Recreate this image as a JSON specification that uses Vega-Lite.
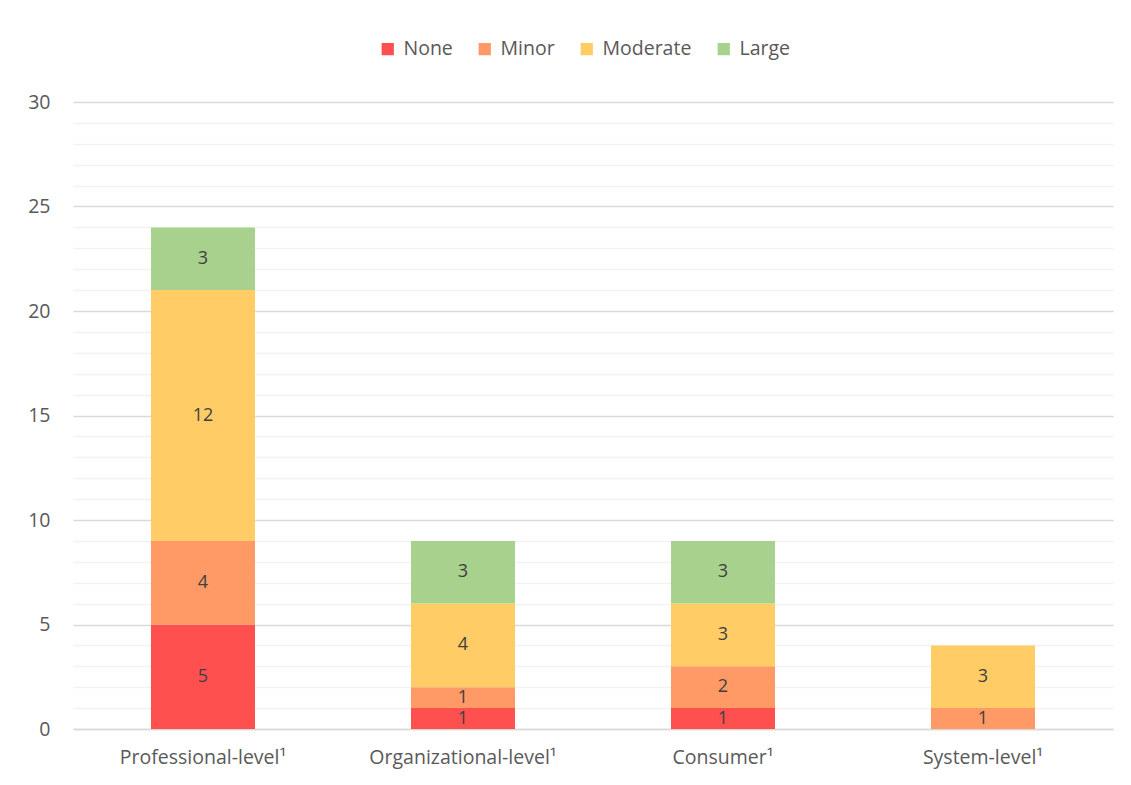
{
  "$schema": "https://vega.github.io/schema/vega-lite/v6.json",
  "width": 1040,
  "height": 627,
  "autosize": {"type": "none"},
  "padding": {"left": 73, "top": 102, "right": 18, "bottom": 56},
  "background": "white",
  "config": {
    "font": "Open Sans",
    "view": {"stroke": null},
    "axis": {"labelFont": "Open Sans", "labelColor": "#595959", "labelFontSize": 19.5, "labelLimit": 0}
  },
  "data": {
    "values": [
      {"category": "Professional-level¹", "impact": "None", "rank": 1, "count": 5},
      {"category": "Professional-level¹", "impact": "Minor", "rank": 2, "count": 4},
      {"category": "Professional-level¹", "impact": "Moderate", "rank": 3, "count": 12},
      {"category": "Professional-level¹", "impact": "Large", "rank": 4, "count": 3},
      {"category": "Organizational-level¹", "impact": "None", "rank": 1, "count": 1},
      {"category": "Organizational-level¹", "impact": "Minor", "rank": 2, "count": 1},
      {"category": "Organizational-level¹", "impact": "Moderate", "rank": 3, "count": 4},
      {"category": "Organizational-level¹", "impact": "Large", "rank": 4, "count": 3},
      {"category": "Consumer¹", "impact": "None", "rank": 1, "count": 1},
      {"category": "Consumer¹", "impact": "Minor", "rank": 2, "count": 2},
      {"category": "Consumer¹", "impact": "Moderate", "rank": 3, "count": 3},
      {"category": "Consumer¹", "impact": "Large", "rank": 4, "count": 3},
      {"category": "System-level¹", "impact": "Minor", "rank": 2, "count": 1},
      {"category": "System-level¹", "impact": "Moderate", "rank": 3, "count": 3}
    ]
  },
  "encoding": {
    "x": {
      "field": "category",
      "type": "nominal",
      "sort": null,
      "scale": {"paddingInner": 0.6, "paddingOuter": 0.3},
      "axis": {
        "title": null,
        "labelAngle": 0,
        "labelLimit": 0,
        "ticks": false,
        "domainColor": "#D9D9D9",
        "domainWidth": 1.5,
        "labelPadding": 19
      }
    }
  },
  "layer": [
    {
      "mark": {"type": "bar"},
      "encoding": {
        "y": {
          "field": "count",
          "type": "quantitative",
          "stack": "zero",
          "scale": {"domain": [0, 30], "nice": false},
          "axis": {
            "orient": "right",
            "title": null,
            "values": [1, 2, 3, 4, 6, 7, 8, 9, 11, 12, 13, 14, 16, 17, 18, 19, 21, 22, 23, 24, 26, 27, 28, 29],
            "labels": false,
            "ticks": false,
            "domain": false,
            "grid": true,
            "gridColor": "#F2F2F2",
            "gridWidth": 1.5
          }
        },
        "color": {
          "field": "impact",
          "type": "nominal",
          "scale": {
            "domain": ["None", "Minor", "Moderate", "Large"],
            "range": ["#FF5050", "#FF9966", "#FFCC66", "#A9D18E"]
          },
          "legend": {
            "title": null,
            "orient": "none",
            "direction": "horizontal",
            "legendX": 305,
            "legendY": -63,
            "padding": 0,
            "symbolType": "square",
            "symbolSize": 150,
            "symbolStrokeWidth": 0,
            "symbolOpacity": 1,
            "labelFont": "Open Sans",
            "labelFontSize": 19.5,
            "labelColor": "#595959",
            "labelOffset": 6,
            "columnPadding": 22
          }
        },
        "order": {"field": "rank", "type": "quantitative"}
      }
    },
    {
      "mark": {"type": "text", "font": "Open Sans", "fontSize": 18, "color": "#404040", "baseline": "middle"},
      "encoding": {
        "y": {
          "field": "count",
          "type": "quantitative",
          "stack": "zero",
          "bandPosition": 0.5,
          "axis": {
            "orient": "left",
            "title": null,
            "values": [0, 5, 10, 15, 20, 25, 30],
            "ticks": false,
            "domain": false,
            "grid": true,
            "gridColor": "#D9D9D9",
            "gridWidth": 1.5,
            "labelPadding": 23
          }
        },
        "text": {"field": "count", "type": "quantitative"},
        "order": {"field": "rank", "type": "quantitative"}
      }
    }
  ],
  "resolve": {"axis": {"y": "independent"}}
}
